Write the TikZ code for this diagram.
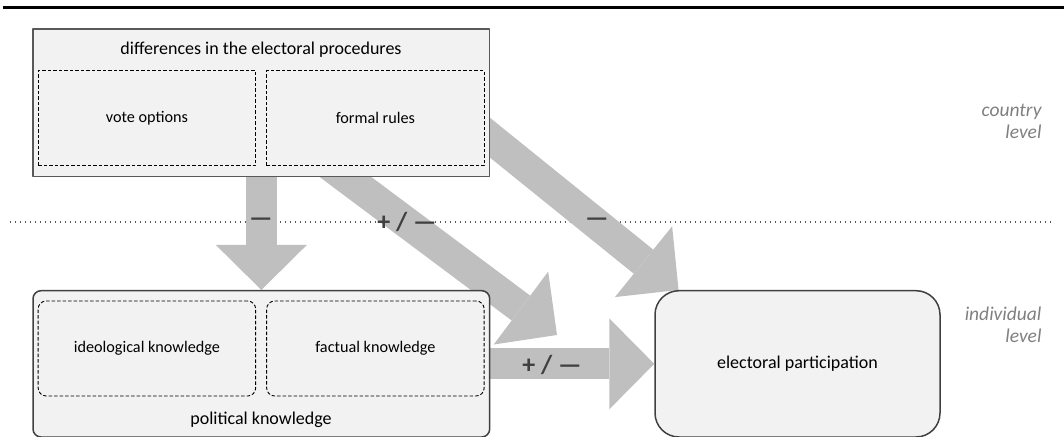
\documentclass[tikz,border=0pt]{standalone}
\usepackage{fontspec}
\setmainfont{Carlito}
\usetikzlibrary{arrows.meta,calc}
\pgfdeclarelayer{background}
\pgfsetlayers{background,main}
\definecolor{boxfill}{HTML}{F2F2F2}
\definecolor{arrowgray}{HTML}{BFBFBF}
\definecolor{signgray}{HTML}{404040}
\definecolor{levelgray}{HTML}{808080}
\definecolor{framegray}{HTML}{595959}
\begin{document}
\begin{tikzpicture}[x=1pt,y=1pt,line join=round,
    outerbox/.style={draw=framegray,line width=1.5pt,fill=boxfill,minimum width=456.7pt,inner sep=0pt},
    innerbox/.style={draw=black,dash pattern=on 3.5pt off 2pt,line width=0.9pt,fill=boxfill,minimum width=217.5pt,minimum height=95pt,inner sep=0pt,font=\fontsize{16.2}{19}\selectfont},
    bigarrow/.style={draw=arrowgray,line width=31pt,-{Triangle[width=91pt,length=45pt,line width=0pt]}},
    sign/.style={font=\fontsize{26}{30}\selectfont\bfseries,text=signgray},
    level/.style={font=\fontsize{19.5}{22}\selectfont\itshape,text=levelgray,align=right,anchor=east}]
    \useasboundingbox (0,0) rectangle (1064,436);
    % country level
    \node[outerbox,minimum height=147.7pt] (procedures) at (261.35,333.15) {};
    \node[font=\fontsize{18}{21}\selectfont] (proctitle) at (261,386.7) {differences in the electoral procedures};
    \node[innerbox] (vote) at (146.9,317.65) {vote options};
    \node[innerbox] (rules) at (375.4,317.65) {formal rules};
    % individual level
    \node[outerbox,rounded corners=8pt,draw=signgray,minimum height=146.3pt] (political) at (261.35,72.15) {};
    \node[innerbox,rounded corners=8pt] (ideological) at (146.9,87.5) {ideological knowledge};
    \node[innerbox,rounded corners=8pt] (factual) at (375.4,87.5) {factual knowledge};
    \node[font=\fontsize{18}{21}\selectfont] (polknow) at (261,16) {political knowledge};
    \node[outerbox,rounded corners=24pt,draw=signgray,minimum width=285pt,minimum height=146.3pt,font=\fontsize{18}{21}\selectfont] (participation) at (797.5,72.15) {electoral participation};
    \node[level] (country) at (1045,315) {country\\level};
    \node[level] (individual) at (1045,111) {individual\\level};
    \coordinate (ruleleft) at (3,428.5);
    \coordinate (ruleright) at (1064,428.5);
    \coordinate (divleft) at (10,214);
    \coordinate (divright) at (1052,214);
    \coordinate (moderation) at (557,101);
    \begin{pgfonlayer}{background}
        \draw[line width=3pt] (ruleleft) -- (ruleright);
        \draw[framegray,line width=1.2pt,dash pattern=on 1.2pt off 3.8pt] (divleft) -- (divright);
        \draw[bigarrow] ($(procedures.south)+(0,17)$) -- (political.north);
        \draw[bigarrow] ($(procedures.south)+(48.65,26.95)$) -- (moderation);
        \draw[bigarrow] ($(procedures.east)+(-14.7,-23.35)$) -- ($(participation.north west)+(24.3,0)$);
        \draw[bigarrow] ($(political.east)+(-10,0)$) -- (participation.west);
    \end{pgfonlayer}
    % signs
    \node[sign] (signA) at (261,214) {—};
    \node[sign] (signB) at (407,214) {+ / —};
    \node[sign] (signC) at (597,214) {—};
    \node[sign] (signD) at (552,71) {+ / —};
\end{tikzpicture}
\end{document}
